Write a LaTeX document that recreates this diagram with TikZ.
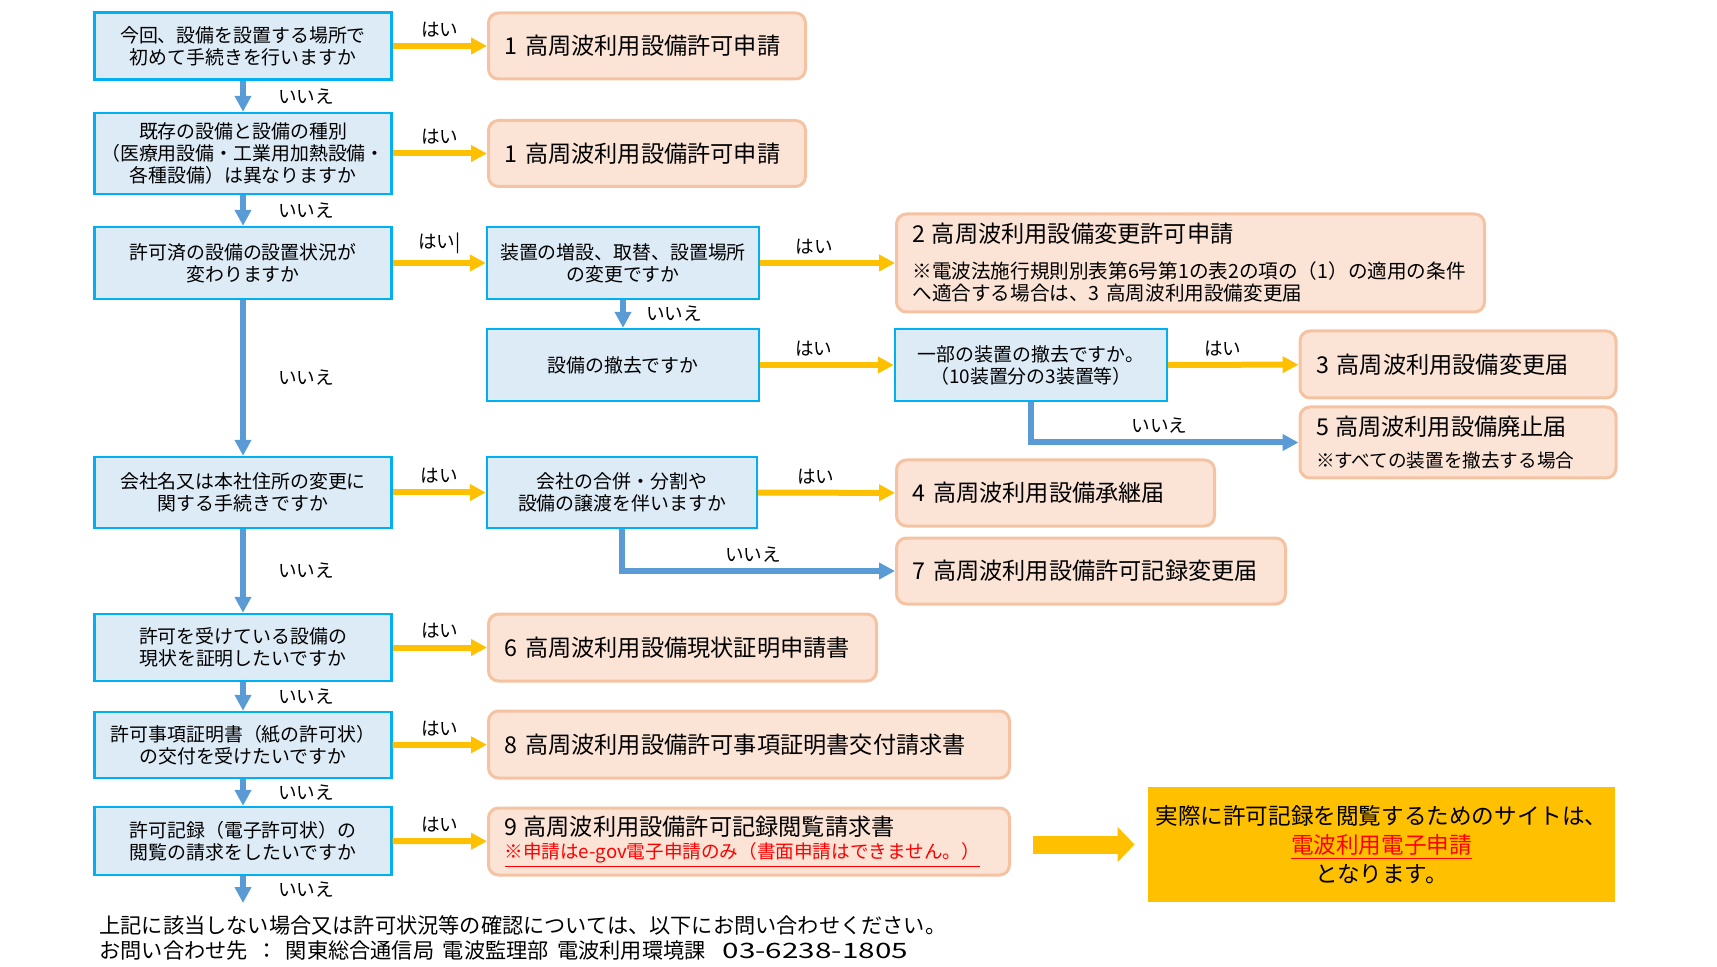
\documentclass[tikz,border=0pt]{standalone}
\usepackage{fontspec}
\usepackage{graphicx}
\setmainfont{Noto Sans CJK JP}
\usetikzlibrary{arrows.meta}
\definecolor{qfill}{HTML}{DDEBF7}
\definecolor{qline}{HTML}{00B0F0}
\definecolor{afill}{HTML}{FBE3D6}
\definecolor{aline}{HTML}{F5C3A2}
\definecolor{yline}{HTML}{FFC000}
\definecolor{nline}{HTML}{5B9BD5}
\definecolor{sitefill}{HTML}{FFC000}
\newcommand{\qfs}{\fontsize{9.45}{11}\selectfont}
\newcommand{\tfs}{\fontsize{11.6}{14}\selectfont}
\newcommand{\nfs}{\fontsize{9.3}{11}\selectfont}
\newcommand{\sfs}{\fontsize{11.3}{14.5}\selectfont}
\newcommand{\ffs}{\fontsize{10.6}{12.5}\selectfont}
\begin{document}
\begin{tikzpicture}[x=0.5pt,y=-0.5pt,
  qbox/.style={draw=qline,fill=qfill,line width=1.2pt,minimum width=148.5pt,align=center,inner sep=0pt,font=\qfs},
  abox/.style={draw=aline,fill=afill,line width=1.5pt,rounded corners=5pt,anchor=west,align=left,inner xsep=8pt,inner ysep=0pt,font=\tfs},
  yes/.style={yline,line width=3pt,-{Triangle[length=8pt,width=8pt]}},
  no/.style={nline,line width=3pt,-{Triangle[length=8pt,width=8pt]}},
  lbl/.style={font=\nfs,text=black,inner sep=2pt}]
  \useasboundingbox (0,0) rectangle (1717,967);
  % 左列の質問
  \node[qbox,minimum height=33.5pt] (q1) at (243,46) {今回、設備を設置する場所で\\初めて手続きを行いますか};
  \node[qbox,minimum height=40.5pt] (q2) at (243,153.5) {既存の設備と設備の種別\\（医療用設備・工業用加熱設備・\\各種設備）は異なりますか};
  \node[qbox,minimum height=36pt] (q3) at (243,263) {許可済の設備の設置状況が\\変わりますか};
  \node[qbox,minimum height=35.5pt] (q4) at (243,492.5) {会社名又は本社住所の変更に\\関する手続きですか};
  \node[qbox,minimum height=33.5pt] (q5) at (243,647.5) {許可を受けている設備の\\現状を証明したいですか};
  \node[qbox,minimum height=33pt] (q6) at (243,745) {許可事項証明書（紙の許可状）\\の交付を受けたいですか};
  \node[qbox,minimum height=34pt] (q7) at (243,841) {許可記録（電子許可状）の\\閲覧の請求をしたいですか};
  \coordinate (end) at (243,903);
  % 中列・右列の質問
  \node[qbox,minimum width=136pt,minimum height=36pt] (q3b) at (623,263) {装置の増設、取替、設置場所\\の変更ですか};
  \node[qbox,minimum width=136pt,minimum height=36pt] (q3c) at (623,365) {設備の撤去ですか};
  \node[qbox,minimum width=136pt,minimum height=36pt] (q3d) at (1031,365) {一部の装置の撤去ですか。\\（10装置分の3装置等）};
  \node[qbox,minimum width=135pt,minimum height=35.5pt] (q4b) at (622,492.5) {会社の合併・分割や\\設備の譲渡を伴いますか};
  % 手続き
  \node[abox,text width=142.5pt,minimum height=33pt] (a1) at (487,46) {1 高周波利用設備許可申請};
  \node[abox,text width=142.5pt,minimum height=33pt] (a1b) at (487,153.5) {1 高周波利用設備許可申請};
  \node[abox,text width=278pt,minimum height=49pt,font=\fontsize{9.8}{11}\selectfont] (a2) at (895,263)
    {{\tfs 2 高周波利用設備変更許可申請}\\[7pt]※電波法施行規則別表第6号第1の表2の項の（1）の適用の条件\\へ適合する場合は、3 高周波利用設備変更届};
  \node[abox,text width=142pt,minimum height=33.5pt] (a3) at (1298.5,364.5) {3 高周波利用設備変更届};
  \node[abox,text width=142pt,minimum height=35.5pt,font=\nfs] (a5) at (1298.5,442.5)
    {{\tfs 5 高周波利用設備廃止届}\\[5pt]※すべての装置を撤去する場合};
  \node[abox,text width=143pt,minimum height=33pt] (a4) at (895,493) {4 高周波利用設備承継届};
  \node[abox,text width=178.5pt,minimum height=33pt] (a7) at (895,571) {7 高周波利用設備許可記録変更届};
  \node[abox,text width=178pt,minimum height=33.5pt] (a6) at (487,647.5) {6 高周波利用設備現状証明申請書};
  \node[abox,text width=244.5pt,minimum height=33.5pt] (a8) at (487,744.5) {8 高周波利用設備許可事項証明書交付請求書};
  \node[abox,text width=244.5pt,minimum height=33.5pt,font=\nfs] (a9) at (487,841.5)
    {{\tfs 9 高周波利用設備許可記録閲覧請求書}\\[0.7pt]{\color{red}\underline{※申請はe-gov電子申請のみ（書面申請はできません。）}}};
  \node[fill=sitefill,minimum width=233.5pt,minimum height=57.5pt,align=center,inner sep=0pt,font=\sfs] (site) at (1381.5,844.5)
    {実際に許可記録を閲覧するためのサイトは、\\{\color{red}\underline{電波利用電子申請}}\\となります。};
  % 問い合わせ先
  \node[anchor=west,align=left,inner sep=0pt,font=\ffs] (note) at (99,937.5)
    {上記に該当しない場合又は許可状況等の確認については、以下にお問い合わせください。\\お問い合わせ先\hspace{0.4em}：\hspace{0.4em}関東総合通信局\hspace{0.4em}電波監理部\hspace{0.4em}電波利用環境課\hspace{0.8em}\scalebox{1.4}[1]{03-6238-1805}};
  % はい
  \draw[yes] (q1) -- node[lbl,above=1pt] {はい} (a1);
  \draw[yes] (q2) -- node[lbl,above=1pt] {はい} (a1b);
  \draw[yes] (q3) -- node[lbl,above=1pt] {はい|} (q3b);
  \draw[yes] (q3b) -- node[lbl,above=1pt,pos=0.4] {はい} (a2);
  \draw[yes] (q3c) -- node[lbl,above=1pt,pos=0.4] {はい} (q3d);
  \draw[yes] (q3d) -- node[lbl,above=1pt,pos=0.42] {はい} (a3);
  \draw[yes] (q4) -- node[lbl,above=1pt] {はい} (q4b);
  \draw[yes] (q4b) -- node[lbl,above=1pt,pos=0.42] {はい} (a4);
  \draw[yes] (q5) -- node[lbl,above=1pt] {はい} (a6);
  \draw[yes] (q6) -- node[lbl,above=1pt] {はい} (a8);
  \draw[yes] (q7) -- node[lbl,above=1pt] {はい} (a9);
  % いいえ
  \draw[no] (q1) -- node[lbl,right=14pt] {いいえ} (q2);
  \draw[no] (q2) -- node[lbl,right=14pt] {いいえ} (q3);
  \draw[no] (q3) -- node[lbl,right=14pt] {いいえ} (q4);
  \draw[no] (q4) -- node[lbl,right=14pt] {いいえ} (q5);
  \draw[no] (q5) -- node[lbl,right=14pt] {いいえ} (q6);
  \draw[no] (q6) -- node[lbl,right=14pt] {いいえ} (q7);
  \draw[no] (q7) -- node[lbl,right=14pt] {いいえ} (end);
  \draw[no] (q3b) -- node[lbl,right=8pt] {いいえ} (q3c);
  \draw[no] (q3d) |- node[lbl,above=1pt,pos=0.74] {いいえ} (a5);
  \draw[no] (q4b) |- node[lbl,above=1pt,pos=0.74] {いいえ} (a7);
  % サイトへの矢印
  \draw[yline,line width=9pt,-{Triangle[length=8.5pt,width=17pt]},shorten <=11pt,shorten >=6.5pt] (a9.east |- site.west) -- (site.west);
\end{tikzpicture}
\end{document}
